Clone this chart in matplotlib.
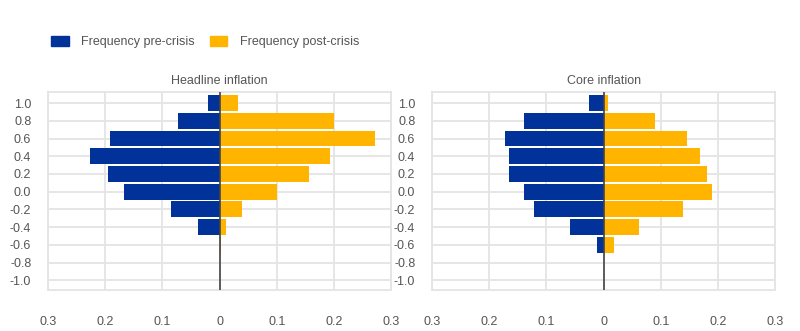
import numpy as np
import matplotlib.pyplot as plt
from matplotlib.patches import Patch

plt.rcParams['font.family'] = ['Liberation Sans', 'DejaVu Sans']

bins = [1.0, 0.8, 0.6, 0.4, 0.2, 0.0, -0.2, -0.4, -0.6, -0.8, -1.0]
bin_labels = ['1.0', '0.8', '0.6', '0.4', '0.2', '0.0', '-0.2', '-0.4', '-0.6', '-0.8', '-1.0']

headline_pre = [0.020, 0.073, 0.192, 0.227, 0.195, 0.167, 0.085, 0.037, 0.0, 0.0, 0.0]
headline_post = [0.032, 0.200, 0.271, 0.193, 0.157, 0.101, 0.040, 0.012, 0.002, 0.0, 0.0]
core_pre = [0.026, 0.140, 0.173, 0.165, 0.165, 0.140, 0.122, 0.059, 0.012, 0.0, 0.0]
core_post = [0.008, 0.089, 0.146, 0.168, 0.180, 0.190, 0.139, 0.062, 0.019, 0.0, 0.0]

titles = ['Headline inflation', 'Core inflation']
xticks = [-0.3, -0.2, -0.1, 0, 0.1, 0.2, 0.3]
xtick_labels = ['0.3', '0.2', '0.1', '0', '0.1', '0.2', '0.3']

blue = '#003299'
yellow = '#ffb400'
grid_c = '#e4e4e4'
text_c = '#555555'
fs = 9

fig = plt.figure(figsize=(8, 3.31), dpi=100)
ax1 = fig.add_axes([0.06, 0.124, 0.429, 0.598])
ax2 = fig.add_axes([0.54, 0.124, 0.429, 0.598])

y = np.array(bins)
for ax, pre, post, title in [(ax1, headline_pre, headline_post, titles[0]),
                             (ax2, core_pre, core_post, titles[1])]:
    ax.barh(y, -np.array(pre), height=0.18, color=blue, zorder=2)
    ax.barh(y, post, height=0.18, color=yellow, zorder=2)
    ax.axvline(0, color='#444444', lw=1.2, zorder=3)
    ax.set_xlim(-0.3, 0.3)
    ax.set_ylim(-1.11, 1.125)
    ax.set_yticks(bins)
    ax.set_yticklabels(bin_labels)
    ax.set_xticks(xticks)
    ax.set_xticklabels(xtick_labels)
    ax.grid(True, color=grid_c, lw=1.3, zorder=0)
    ax.set_axisbelow(True)
    for s in ax.spines.values():
        s.set_color(grid_c)
        s.set_linewidth(1.3)
    ax.tick_params(length=0, labelsize=fs, colors=text_c)
    ax.tick_params(axis='x', pad=19)
    ax.tick_params(axis='y', pad=12)
    ax.set_title(title, fontsize=fs, color=text_c, pad=6)

handles = [Patch(color=blue, label='Frequency pre-crisis'),
           Patch(color=yellow, label='Frequency post-crisis')]
fig.legend(handles=handles, loc='upper left', bbox_to_anchor=(0.05, 0.925),
           ncol=2, frameon=False, fontsize=fs, labelcolor=text_c,
           handlelength=1.4, handleheight=0.8, columnspacing=1.2, handletextpad=1.0)

fig.savefig('out.png', dpi=100, facecolor='white')
